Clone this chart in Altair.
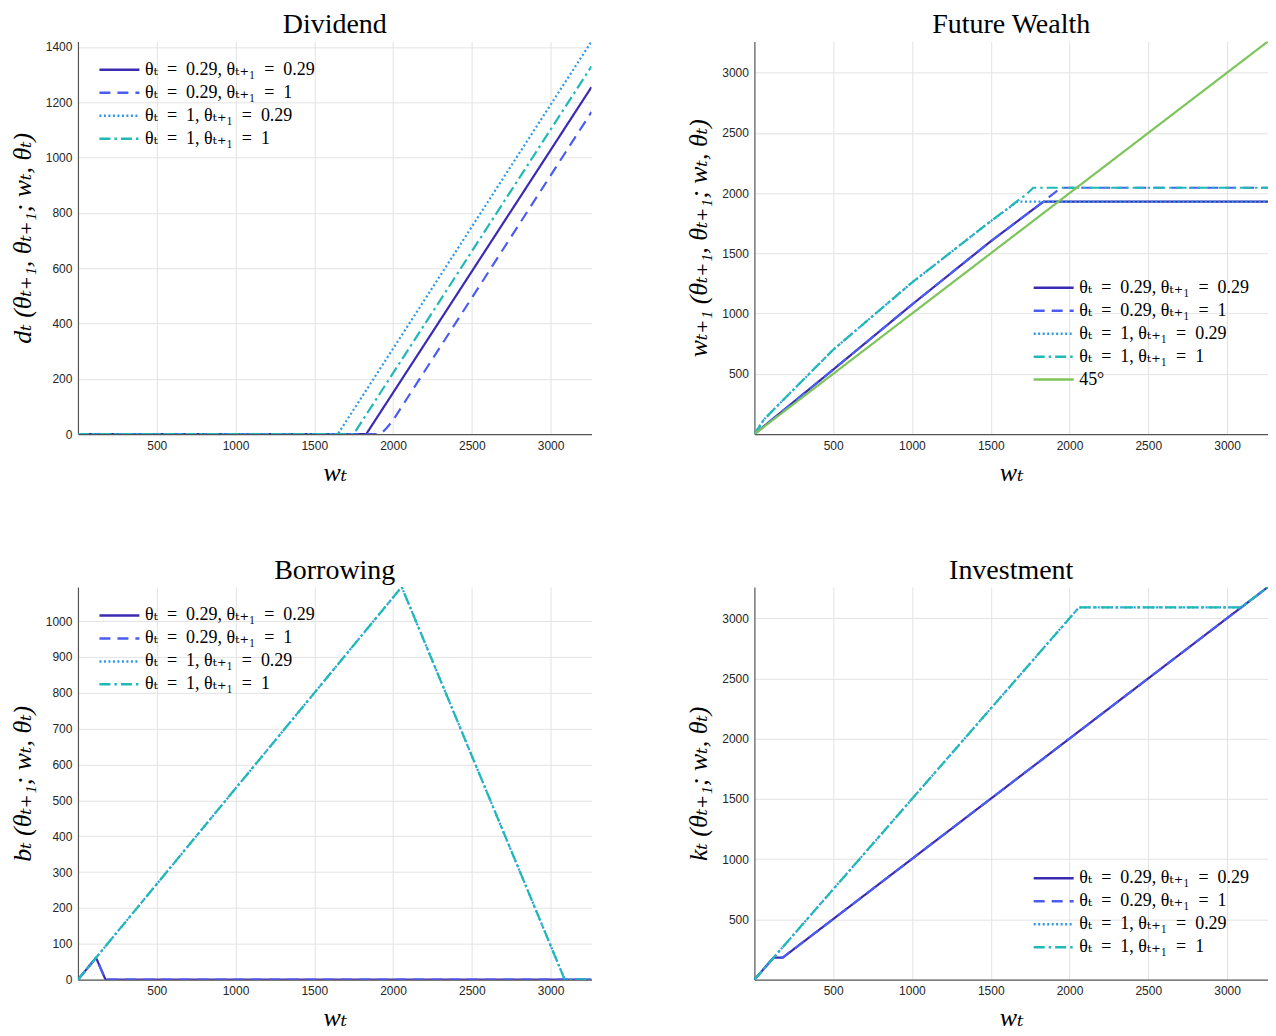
import altair as alt
import pandas as pd

# ---------------- data ----------------
SP = "\u2002"
S4 = [f"θₜ{SP}={SP}0.29, θₜ₊₁{SP}={SP}0.29", f"θₜ{SP}={SP}0.29, θₜ₊₁{SP}={SP}1",
      f"θₜ{SP}={SP}1, θₜ₊₁{SP}={SP}0.29", f"θₜ{SP}={SP}1, θₜ₊₁{SP}={SP}1"]
S45 = "45°"
COLORS = ["#3b2ab2", "#4a5cf2", "#2f97ea", "#1fbab6", "#7dc55a"]
DASHES = [[1, 0], [11, 7], [2, 2.5], [11, 4, 2.5, 4], [1, 0]]

X_TICKS = [500, 1000, 1500, 2000, 2500, 3000]

# Dividend
div_w_s = [0, 1830, 3260]
div_v_s = [0, 0, 1255]
div_w_d = [0, 1900, 1930, 1960, 2000, 3260]
div_v_d = [0, 0, 5, 22, 50, 1165]
div_w_o = [0, 1650, 3260]
div_v_o = [0, 0, 1420]
div_w_dd = [0, 1750, 3260]
div_v_dd = [0, 0, 1330]

# Future wealth
fw_w_s = [0, 500, 1000, 1500, 1835, 3260]
fw_v_s = [0, 535, 1075, 1600, 1930, 1930]
fw_w_d = [0, 500, 1000, 1500, 1835, 1945, 3260]
fw_v_d = [0, 535, 1075, 1600, 1930, 2045, 2045]
fw_w_o = [0, 60, 150, 500, 1000, 1500, 1670, 3260]
fw_v_o = [0, 120, 240, 700, 1258, 1767, 1930, 1930]
fw_w_dd = [0, 60, 150, 500, 1000, 1500, 1670, 1730, 1770, 3260]
fw_v_dd = [0, 120, 240, 700, 1258, 1767, 1935, 1995, 2045, 2045]
fw_w_45 = [0, 3260]
fw_v_45 = [0, 3260]

# Borrowing
b_w_s = [0, 115, 175, 3260]
b_v_s = [0, 61, 0, 0]
b_w_d = [0, 115, 175, 3260]
b_v_d = [0, 61, 0, 0]
b_w_o = [0, 2055, 3090, 3260]
b_v_o = [0, 1095, 0, 0]
b_w_dd = [0, 2055, 3090, 3260]
b_v_dd = [0, 1095, 0, 0]

# Investment
k_w_s = [0, 122, 180, 3260]
k_v_s = [0, 183, 183, 3260]
k_w_d = [0, 122, 180, 3260]
k_v_d = [0, 183, 183, 3260]
k_w_o = [0, 2060, 3090, 3260]
k_v_o = [0, 3090, 3090, 3260]
k_w_dd = [0, 2060, 3090, 3260]
k_v_dd = [0, 3090, 3090, 3260]


def build_df(pairs, names):
    rows = []
    for si, ((ws, vs), name) in enumerate(zip(pairs, names)):
        for i, (w, v) in enumerate(zip(ws, vs)):
            rows.append({"w": w, "v": v, "series": name, "si": si, "i": i})
    return pd.DataFrame(rows)


df_div = build_df([(div_w_s, div_v_s), (div_w_d, div_v_d), (div_w_o, div_v_o), (div_w_dd, div_v_dd)], S4)
df_fw = build_df([(fw_w_s, fw_v_s), (fw_w_d, fw_v_d), (fw_w_o, fw_v_o), (fw_w_dd, fw_v_dd), (fw_w_45, fw_v_45)], S4 + [S45])
df_b = build_df([(b_w_s, b_v_s), (b_w_d, b_v_d), (b_w_o, b_v_o), (b_w_dd, b_v_dd)], S4)
df_k = build_df([(k_w_s, k_v_s), (k_w_d, k_v_d), (k_w_o, k_v_o), (k_w_dd, k_v_dd)], S4)

SERIF = "Liberation Serif, DejaVu Serif"
SANS = "Liberation Sans, Arial, DejaVu Sans"


def panel(df, title, ytitle, ydomain, yticks, names, legend_pos):
    n = len(names)
    leg = dict(title=None, orient="none", symbolType="stroke", symbolSize=1600, symbolStrokeWidth=2.5,
               labelFont=SERIF, labelFontSize=18, labelColor="black", rowPadding=0,
               clipHeight=23, labelLimit=400, padding=0, labelOffset=4)
    leg.update(legend_pos)
    legend = alt.Legend(**leg)
    return (
        alt.Chart(df)
        .mark_line(strokeWidth=2.2, clip=True)
        .encode(
            x=alt.X("w:Q", scale=alt.Scale(domain=[0, 3260], nice=False, zero=False),
                    axis=alt.Axis(values=X_TICKS, title="wₜ", format="d")),
            y=alt.Y("v:Q", scale=alt.Scale(domain=ydomain, nice=False, zero=False),
                    axis=alt.Axis(values=yticks, title=ytitle, format="d")),
            color=alt.Color("series:N", scale=alt.Scale(domain=names, range=COLORS[:n]),
                            legend=legend, sort=names),
            strokeDash=alt.StrokeDash("series:N", scale=alt.Scale(domain=names, range=DASHES[:n]),
                                      legend=legend, sort=names),
            order=alt.Order("i:Q"),
        )
        .properties(width=514, height=393,
                    title=alt.Title(title, font=SERIF, fontSize=28, fontWeight="normal",
                                    color="black", offset=2))
    )


p1 = panel(df_div, "Dividend", "dₜ (θₜ₊₁, θₜ₊₁; wₜ, θₜ)", [0, 1420],
           [0, 200, 400, 600, 800, 1000, 1200, 1400], S4,
           dict(legendX=20, legendY=17))
p2 = panel(df_fw, "Future Wealth", "wₜ₊₁ (θₜ₊₁, θₜ₊₁; wₜ, θₜ)", [0, 3260],
           [500, 1000, 1500, 2000, 2500, 3000], S4 + [S45],
           dict(legendX=278, legendY=235))
p3 = panel(df_b, "Borrowing", "bₜ (θₜ₊₁; wₜ, θₜ)", [0, 1095],
           [0, 100, 200, 300, 400, 500, 600, 700, 800, 900, 1000], S4,
           dict(legendX=20, legendY=17))
p4 = panel(df_k, "Investment", "kₜ (θₜ₊₁; wₜ, θₜ)", [0, 3260],
           [500, 1000, 1500, 2000, 2500, 3000], S4,
           dict(legendX=278, legendY=280))

top = alt.hconcat(p1, p2, spacing=94).resolve_scale(color="independent", strokeDash="independent").resolve_legend(color="independent", strokeDash="independent")
bot = alt.hconcat(p3, p4, spacing=94).resolve_scale(color="independent", strokeDash="independent").resolve_legend(color="independent", strokeDash="independent")

chart = (
    alt.vconcat(top, bot, spacing=72)
    .resolve_scale(color="independent", strokeDash="independent")
    .resolve_legend(color="independent", strokeDash="independent")
    .properties(padding={"left": 1, "top": 2, "right": 0, "bottom": 0})
    .configure_view(stroke=None)
    .configure_axis(labelFont=SANS, labelFontSize=12, labelColor="#262626",
                    domainColor="#555555", domainWidth=1.2, gridColor="#e3e3e3",
                    ticks=False, labelPadding=6,
                    titleFont=SERIF, titleFontSize=26, titleFontWeight="normal",
                    titleFontStyle="italic", titleColor="black", titlePadding=10)
    .configure_axisX(titleFontSize=26, titlePadding=8)
)

chart.save("out.html", embed_options={"renderer": "svg", "actions": False})
